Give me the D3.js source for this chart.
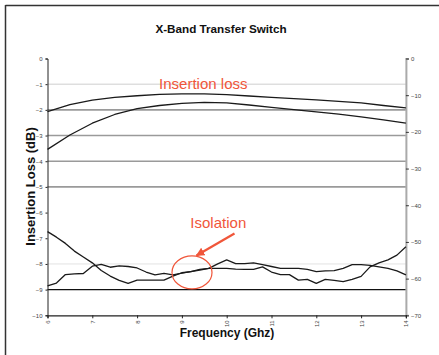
<!DOCTYPE html>
<html><head><meta charset="utf-8">
<script src="https://cdn.jsdelivr.net/npm/d3@7"></script>
<style>
html,body{margin:0;padding:0;background:#fff;}
svg{display:block;font-family:"Liberation Sans",Arial,sans-serif;}
</style></head>
<body><svg id="c" width="439" height="355"></svg>
<script>
// ---- data ----
const ilFreq = [6.0,6.5,7.0,7.5,8.0,8.5,9.0,9.5,10.0,10.5,11.0,11.5,12.0,12.5,13.0,13.5,14.0];
const ilUpper = [-2.07,-1.80,-1.62,-1.51,-1.45,-1.40,-1.38,-1.38,-1.41,-1.46,-1.51,-1.56,-1.61,-1.67,-1.73,-1.83,-1.92];
const ilLower = [-3.54,-2.98,-2.52,-2.18,-1.95,-1.83,-1.75,-1.71,-1.73,-1.81,-1.90,-1.99,-2.08,-2.17,-2.27,-2.39,-2.52];
const isoFreq = [6.0,6.2,6.4,6.6,6.8,7.0,7.2,7.4,7.6,7.8,8.0,8.2,8.4,8.6,8.8,9.0,9.2,9.4,9.6,9.8,10.0,
                 10.2,10.4,10.6,10.8,11.0,11.2,11.4,11.6,11.8,12.0,12.2,12.4,12.6,12.8,13.0,13.2,13.4,13.6,13.8,14.0];
const isoA = [-47.2,-48.7,-50.4,-52.5,-54.1,-55.7,-57.8,-59.3,-60.5,-61.3,-60.4,-60.4,-60.4,-60.4,-59.3,-58.4,-58.1,-57.5,-57.2,-56.0,-54.9,
              -55.9,-55.9,-55.7,-56.2,-56.7,-57.2,-57.2,-57.2,-57.5,-58.1,-57.9,-57.8,-57.2,-56.2,-56.2,-56.4,-56.8,-57.2,-57.9,-59.0];
const isoB = [-62.0,-61.2,-58.9,-58.7,-58.6,-56.6,-56.1,-56.9,-56.5,-56.7,-57.1,-58.2,-59.0,-58.6,-59.0,-58.5,-58.1,-57.7,-57.2,-57.2,-57.2,
              -57.4,-57.5,-57.5,-56.8,-58.2,-58.9,-58.9,-60.4,-60.2,-61.3,-60.2,-60.5,-60.8,-60.2,-59.4,-56.8,-55.7,-54.9,-53.6,-51.3];
const xTicks = [6,7,8,9,10,11,12,13,14];
const yLeftTicks = [0,-1,-2,-3,-4,-5,-6,-7,-8,-9,-10];
const yRightTicks = [0,-10,-20,-30,-40,-50,-60,-70];
const titleText = "X-Band Transfer Switch";
const xLabel = "Frequency (Ghz)";
const yLabel = "Insertion Loss (dB)";
const noteIL = "Insertion loss";
const noteIso = "Isolation";

// ---- layout ----
const svg = d3.select("#c");
const L = 47.5, R = 405.9, T = 58.5, B = 315.3;
const x = d3.scaleLinear().domain([6,14]).range([L,R]);
const yL = d3.scaleLinear().domain([-10,0]).range([B,T]);
const yR = d3.scaleLinear().domain([-70,0]).range([B,T]);
const red = "#f0563a";

// frame (page edge)
svg.append("line").attr("x1",5.5).attr("x2",439).attr("y1",5.5).attr("y2",5.5).attr("stroke","#333").attr("stroke-width",1.5);
svg.append("line").attr("x1",5.5).attr("x2",5.5).attr("y1",5).attr("y2",355).attr("stroke","#333").attr("stroke-width",1.5);

// gridlines
const gridStyle = v => {
  if (v===-1) return ["#cfcfcf",1];
  if (v<=-2 && v>=-5) return ["#9a9a9a",1.6];
  if (v===-8) return ["#e2e2e2",1];
  if (v===-9) return ["#111",1.1];
  return null;
};
svg.append("g").selectAll("line").data(yLeftTicks.filter(v=>gridStyle(v))).join("line")
  .attr("x1",L).attr("x2",R).attr("y1",d=>yL(d)).attr("y2",d=>yL(d))
  .attr("stroke",d=>gridStyle(d)[0]).attr("stroke-width",d=>gridStyle(d)[1]);

// axes
const tickFont = g => g.selectAll("text").attr("font-size",6).attr("fill","#444").attr("font-family","Liberation Sans, Arial, sans-serif");
const gl = svg.append("g").attr("transform",`translate(${L},0)`)
  .call(d3.axisLeft(yL).tickValues(yLeftTicks).tickSize(2).tickPadding(3).tickFormat(d3.format("d")));
gl.select(".domain").attr("stroke","#222");
gl.selectAll(".tick line").attr("stroke","#222");
tickFont(gl);

const gr = svg.append("g").attr("transform",`translate(${R},0)`)
  .call(d3.axisRight(yR).tickValues(yRightTicks).tickSize(3).tickPadding(2).tickFormat(d3.format("d")));
gr.select(".domain").attr("stroke","#aaa").attr("stroke-width",2);
gr.selectAll(".tick line").attr("stroke","#333");
tickFont(gr);

const gb = svg.append("g").attr("transform",`translate(0,${B})`)
  .call(d3.axisBottom(x).tickValues(xTicks).tickSize(3).tickFormat(d3.format("d")));
gb.select(".domain").attr("stroke","#222").attr("stroke-width",1.2);
gb.selectAll(".tick line").attr("stroke","#222");
gb.selectAll(".tick text").attr("transform","rotate(-90)").attr("text-anchor","end")
  .attr("x",-5).attr("y",0).attr("dy","0.32em");
tickFont(gb);

// series
const lineL = d3.line().x(d=>x(d[0])).y(d=>yL(d[1]));
const lineR = d3.line().x(d=>x(d[0])).y(d=>yR(d[1]));
const series = [
  {pts: d3.zip(ilFreq, ilUpper), gen: lineL},
  {pts: d3.zip(ilFreq, ilLower), gen: lineL},
  {pts: d3.zip(isoFreq, isoA), gen: lineR},
  {pts: d3.zip(isoFreq, isoB), gen: lineR}
];
svg.append("g").selectAll("path").data(series).join("path")
  .attr("d",s=>s.gen(s.pts)).attr("fill","none").attr("stroke","#1a1a1a").attr("stroke-width",1.3)
  .attr("stroke-linejoin","round");

// titles
svg.append("text").attr("x",221).attr("y",33).attr("text-anchor","middle")
  .attr("font-size",11.7).attr("font-weight","bold").attr("fill","#111").text(titleText);
svg.append("text").attr("x",227).attr("y",336.5).attr("text-anchor","middle")
  .attr("font-size",12).attr("font-weight","bold").attr("fill","#111").text(xLabel);
svg.append("text").attr("transform","translate(34.5,186.5) rotate(-90)").attr("text-anchor","middle")
  .attr("font-size",13).attr("font-weight","bold").attr("fill","#111").text(yLabel);

// annotations
svg.append("text").attr("x",203.3).attr("y",89).attr("text-anchor","middle")
  .attr("font-size",15).attr("fill",red).text(noteIL);
svg.append("text").attr("x",218.3).attr("y",228).attr("text-anchor","middle")
  .attr("font-size",15).attr("fill",red).text(noteIso);
svg.append("defs").append("marker").attr("id","ah").attr("viewBox","0 0 10 10")
  .attr("refX",9).attr("refY",5).attr("markerWidth",4).attr("markerHeight",4).attr("orient","auto")
  .append("path").attr("d","M0,0 L10,5 L0,10 z").attr("fill",red);
svg.append("line").attr("x1",234.5).attr("y1",233.5).attr("x2",196.5).attr("y2",255.5)
  .attr("stroke",red).attr("stroke-width",2.2).attr("marker-end","url(#ah)");
svg.append("ellipse").attr("cx",192).attr("cy",272.4).attr("rx",20).attr("ry",16.5)
  .attr("fill","none").attr("stroke",red).attr("stroke-width",1.2);
</script></body></html>
